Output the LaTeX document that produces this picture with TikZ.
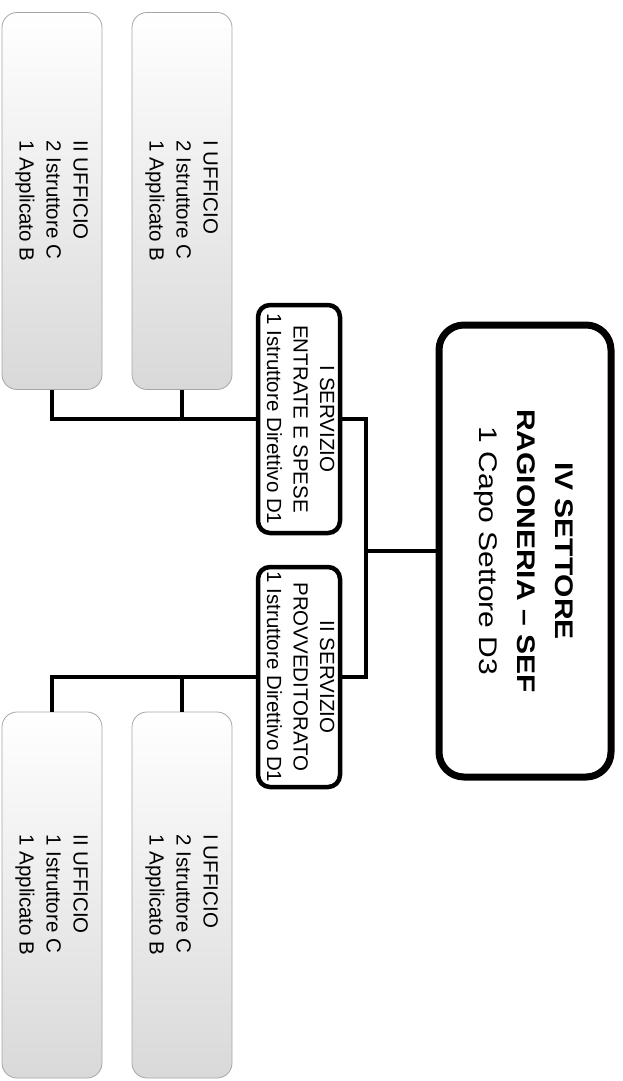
\documentclass[tikz,border=0pt]{standalone}
\usepackage{fontspec}
\setmainfont{Liberation Sans}
\usetikzlibrary{positioning}

% text turned a quarter clockwise
\newcommand{\giratxt}[2]{\rotatebox{-90}{\begin{tabular}{@{}#1@{}}#2\end{tabular}}}

\tikzset{
  settore/.style={draw, fill=white, rounded corners=25pt, line width=7pt,
    minimum width=172pt, minimum height=452pt, inner sep=0pt,
    font=\fontsize{30}{44.7}\selectfont},
  servizio/.style={draw, fill=white, rounded corners=12pt, line width=4.5pt,
    minimum width=82pt, inner sep=0pt, font=\fontsize{20.5}{26.5}\selectfont},
  ufficio/.style={draw=gray!70, line width=0.8pt, rounded corners=15pt,
    top color=white, bottom color=gray!30, minimum width=100pt, inner sep=0pt,
    font=\fontsize{20.5}{27}\selectfont},
  linea/.style={line width=4pt}
}

\begin{document}
\begin{tikzpicture}[x=1pt,y=-1pt]

	\useasboundingbox (0,0) rectangle (623,1081);

	\node[settore] (sett) at (525,551) {\rotatebox{-90}{\scalebox{1}[0.85]{\begin{tabular}{@{}c@{}}\textbf{IV SETTORE}\\\textbf{RAGIONERIA -- SEF}\\1 Capo Settore D3\end{tabular}}}};

	\node[servizio, minimum height=228pt] (serv1) at (299,419) {\giratxt{c}{I SERVIZIO\\ENTRATE E SPESE\\1 Istruttore Direttivo D1}};
	\node[servizio, minimum height=220pt] (serv2) at (299,677) {\giratxt{c}{II SERVIZIO\\PROVVEDITORATO\\1 Istruttore Direttivo D1}};

	\node[ufficio, minimum height=377pt] (uff11) at (182,201) {\giratxt{l}{I UFFICIO\\2 Istruttore C\\1 Applicato B}};
	\node[ufficio, minimum height=377pt] (uff12) at (52,201) {\giratxt{l}{II UFFICIO\\2 Istruttore C\\1 Applicato B}};
	\node[ufficio, minimum height=366pt] (uff21) at (182,895) {\giratxt{l}{I UFFICIO\\2 Istruttore C\\1 Applicato B}};
	\node[ufficio, minimum height=366pt] (uff22) at (52,895) {\giratxt{l}{II UFFICIO\\1 Istruttore C\\1 Applicato B}};

	\coordinate (nodo) at (366,551);

	\draw[linea] (sett.west) -- (nodo);
	\draw[linea] (serv1.east) -| (nodo) |- (serv2.east);
	\draw[linea] (serv1.west) -| (uff11.south);
	\draw[linea] (serv1.west) -| (uff12.south);
	\draw[linea] (serv2.west) -| (uff21.north);
	\draw[linea] (serv2.west) -| (uff22.north);

\end{tikzpicture}
\end{document}
